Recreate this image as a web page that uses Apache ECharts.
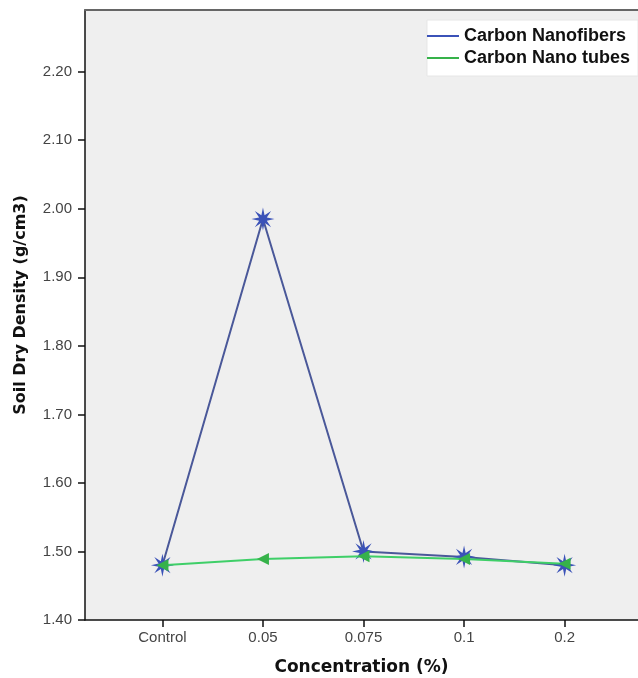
<!DOCTYPE html>
<html>
<head>
<meta charset="utf-8">
<script src="https://cdn.jsdelivr.net/npm/echarts@6/dist/echarts.min.js"></script>
<style>
  html, body { margin: 0; padding: 0; background: #ffffff; }
  #chart { width: 638px; height: 678px; }
</style>
</head>
<body>
<div id="chart"></div>
<script>
// Concentration levels along the x axis
const categories = ['Control', '0.05', '0.075', '0.1', '0.2'];

// Soil dry density (g/cm3) per concentration
const nanofibers = [1.48, 1.985, 1.50, 1.492, 1.48];
const nanotubes = [1.48, 1.489, 1.493, 1.489, 1.482];

// Density tick values
const yTicks = [1.4, 1.5, 1.6, 1.7, 1.8, 1.9, 2.0, 2.1, 2.2];

const seriesNames = ['Carbon Nanofibers', 'Carbon Nano tubes'];

// Eight-pointed star marker
function starPath(points, outer, inner) {
  let d = '';
  for (let i = 0; i < points * 2; i++) {
    const r = i % 2 === 0 ? outer : inner;
    const a = -Math.PI / 2 + (i * Math.PI) / points;
    const x = (r * Math.cos(a)).toFixed(2);
    const y = (r * Math.sin(a)).toFixed(2);
    d += (i === 0 ? 'M' : 'L') + x + ',' + y;
  }
  return 'path://' + d + 'Z';
}

const blue = '#4a5899';
const green = '#3fcf68';
const idx = categories.map((_, i) => i);
const sans = 'Liberation Sans, Arial, sans-serif';
const titleFont = 'DejaVu Sans, Verdana, sans-serif';

const chart = echarts.init(document.getElementById('chart'));
chart.setOption({
  animation: false,
  textStyle: { fontFamily: sans },
  grid: {
    left: 85, top: 10, right: 0, bottom: 58,
    outerBoundsMode: 'none',
    containLabel: false,
    show: true, backgroundColor: '#efefef', borderWidth: 0
  },
  legend: {
    right: 0, top: 20,
    orient: 'vertical',
    backgroundColor: '#ffffff',
    borderColor: '#e6e6e6', borderWidth: 1,
    padding: [7, 8, 9, 0],
    itemGap: 4,
    itemWidth: 32, itemHeight: 2,
    icon: 'rect',
    textStyle: { fontSize: 18, fontWeight: 'bold', color: '#111111', fontFamily: sans },
    data: seriesNames
  },
  xAxis: [{
    type: 'value',
    min: -0.77, max: 4.73,
    name: 'Concentration (%)',
    nameLocation: 'middle',
    nameGap: 39,
    nameTextStyle: { fontSize: 17, fontWeight: 'bold', color: '#111111', fontFamily: titleFont },
    axisLine: { show: true, onZero: false, lineStyle: { color: '#111111', width: 1.5 } },
    axisTick: { show: true, customValues: idx, length: 7, lineStyle: { color: '#111111', width: 1.5 } },
    axisLabel: {
      customValues: idx, margin: 10, fontSize: 15, color: '#444444',
      formatter: v => categories[Math.round(v)] || ''
    },
    splitLine: { show: false }
  }, {
    type: 'value',
    position: 'top',
    min: -0.77, max: 4.73,
    axisLine: { show: true, onZero: false, lineStyle: { color: '#666666', width: 2 } },
    axisTick: { show: false },
    axisLabel: { show: false },
    splitLine: { show: false }
  }],
  yAxis: {
    type: 'value',
    min: 1.4, max: 2.29,
    name: 'Soil Dry Density (g/cm3)',
    nameLocation: 'middle',
    nameGap: 56,
    nameTextStyle: {
      fontSize: 16, fontWeight: 'bold', color: '#111111', fontFamily: titleFont,
      padding: [0, 0, 0, 20]
    },
    axisLine: { show: true, onZero: false, lineStyle: { color: '#111111', width: 1.5 } },
    axisTick: { show: true, customValues: yTicks, length: 7, lineStyle: { color: '#111111', width: 1.5 } },
    axisLabel: {
      customValues: yTicks, margin: 13, fontSize: 15, color: '#444444',
      formatter: v => v.toFixed(2)
    },
    splitLine: { show: false }
  },
  series: [{
    name: seriesNames[0],
    type: 'line',
    data: nanofibers.map((v, i) => [i, v]),
    color: blue,
    lineStyle: { color: blue, width: 2 },
    symbol: starPath(8, 10, 3.6),
    symbolSize: 23,
    itemStyle: { color: '#3b52b8', borderColor: '#3b52b8', borderWidth: 0 },
    z: 2
  }, {
    name: seriesNames[1],
    type: 'line',
    data: nanotubes.map((v, i) => [i, v]),
    color: green,
    lineStyle: { color: green, width: 2 },
    symbol: 'triangle',
    symbolRotate: 90,
    symbolSize: 12,
    itemStyle: { color: '#36b24a' },
    z: 3
  }]
});
</script>
</body>
</html>
